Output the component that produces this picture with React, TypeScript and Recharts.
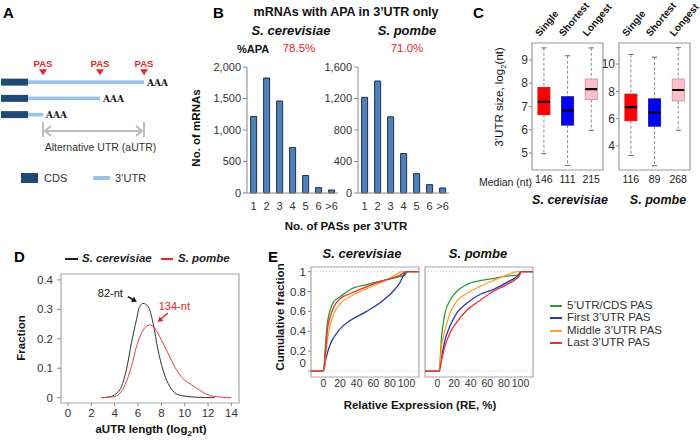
import React from 'react';
import {
  BarChart, Bar, LineChart, Line, ComposedChart, XAxis, YAxis,
  ReferenceArea, ReferenceDot, ReferenceLine,
} from 'recharts';

const FONT = '"Liberation Sans", Arial, Helvetica, sans-serif';

// ---- A: transcript schematic ----
const transcriptRows = ['long', 'mid', 'short'];
const cdsStart = 1;
const cdsEnd = 28;
const utrEnds = [144, 100, 43];
const aUtrSpan = [43, 144];

// ---- B: PAS counts per 3'UTR ----
const pasCategories = ['1', '2', '3', '4', '5', '6', '>6'];
const scPasCounts = [1215, 1825, 1460, 722, 278, 85, 48];
const spPasCounts = [1215, 1422, 968, 501, 246, 106, 64];
const scCountTicks = [0, 500, 1000, 1500, 2000];
const spCountTicks = [0, 400, 800, 1200, 1600];

// ---- C: 3'UTR size box plots ----
const boxGroups = ['Single', 'Shortest', 'Longest'];
const scBoxMin = [4.97, 4.47, 5.98];
const scBoxQ1 = [6.65, 6.2, 7.3];
const scBoxMedian = [7.2, 6.82, 7.75];
const scBoxQ3 = [7.82, 7.42, 8.18];
const scBoxMax = [9.52, 9.18, 9.52];
const scMedianNt = ['146', '111', '215'];
const spBoxMin = [3.3, 2.55, 5.15];
const spBoxQ1 = [5.85, 5.45, 7.3];
const spBoxMedian = [6.85, 6.45, 8.1];
const spBoxQ3 = [7.8, 7.45, 8.9];
const spBoxMax = [10.7, 10.5, 11.2];
const spMedianNt = ['116', '89', '268'];

// ---- D: aUTR length density ----
const scAutrDensity = [
  [2.86, 0], [3.43, 0.002], [4.0, 0.01], [4.57, 0.037], [5.0, 0.094], [5.43, 0.185],
  [5.86, 0.264], [6.14, 0.31], [6.43, 0.32], [6.86, 0.31], [7.29, 0.253], [7.71, 0.162],
  [8.14, 0.094], [8.57, 0.049], [9.14, 0.017], [9.71, 0.007], [10.86, 0.002], [12.57, 0],
];
const spAutrDensity = [
  [2.86, 0], [4.0, 0.004], [4.57, 0.02], [5.0, 0.055], [5.43, 0.105], [5.86, 0.173],
  [6.29, 0.219], [6.71, 0.242], [7.0, 0.247], [7.43, 0.236], [8.0, 0.196], [8.57, 0.151],
  [9.14, 0.105], [9.71, 0.071], [10.3, 0.051], [10.86, 0.037], [11.7, 0.015], [12.57, 0.004], [14, 0],
];
const autrTicks = [0, 2, 4, 6, 8, 10, 12, 14];
const fractionTicks = [0, 0.1, 0.2, 0.3, 0.4];

// ---- E: cumulative RE ----
const scCds = [[-15, 0], [0, 0], [2.7, 0.3], [4.7, 0.48], [8.7, 0.63], [12.6, 0.7], [20.5, 0.75], [32.3, 0.82], [52, 0.87], [71.7, 0.91], [91.4, 0.95], [98.5, 0.966], [100, 1], [115, 1]];
const scFirst = [[-15, 0], [0, 0], [2.7, 0.11], [4.7, 0.18], [8.7, 0.28], [12.6, 0.34], [20.5, 0.43], [32.3, 0.51], [52, 0.6], [71.7, 0.71], [83.5, 0.8], [91.4, 0.88], [98.5, 0.99], [100, 1], [115, 1]];
const scMiddle = [[-15, 0], [0, 0], [2.7, 0.15], [4.7, 0.31], [8.7, 0.48], [12.6, 0.58], [20.5, 0.68], [32.3, 0.75], [52, 0.83], [71.7, 0.9], [87.4, 0.97], [93.4, 1], [115, 1]];
const scLast = [[-15, 0], [0, 0], [2.7, 0.22], [4.7, 0.41], [8.7, 0.56], [12.6, 0.65], [20.5, 0.73], [32.3, 0.78], [52, 0.85], [71.7, 0.91], [91.4, 0.96], [100, 1], [115, 1]];
const spCds = [[-15, 0], [2, 0], [5, 0.35], [9, 0.58], [15, 0.71], [23, 0.8], [35, 0.87], [51, 0.91], [67, 0.93], [83, 0.956], [97, 0.966], [100, 1], [115, 1]];
const spFirst = [[-15, 0], [2, 0], [5, 0.14], [9, 0.31], [15, 0.45], [23, 0.58], [35, 0.68], [51, 0.77], [67, 0.82], [83, 0.89], [99, 0.98], [100, 1], [115, 1]];
const spMiddle = [[-15, 0], [2, 0], [5, 0.25], [9, 0.41], [15, 0.58], [23, 0.7], [35, 0.78], [51, 0.85], [67, 0.91], [83, 0.966], [91, 0.99], [97, 1], [115, 1]];
const spLast = [[-15, 0], [2, 0], [5, 0.11], [9, 0.25], [15, 0.38], [23, 0.49], [35, 0.61], [51, 0.71], [67, 0.8], [83, 0.87], [99, 0.966], [101, 1], [115, 1]];
const reTicks = [0, 20, 40, 60, 80, 100];
const cumTicks = [0, 0.2, 0.4, 0.6, 0.8, 1];
const pasTypes = ['5\u2019UTR/CDS PAS', 'First 3\u2019UTR PAS', 'Middle 3\u2019UTR PAS', 'Last 3\u2019UTR PAS'];

const pasColors = ['#2e9a33', '#2838b0', '#ffa12e', '#ea2f35'];
const boxFill: Record<string, string> = { Single: '#ff0000', Shortest: '#0000ff', Longest: '#ffc0cb' };
const boxStroke: Record<string, string> = { Single: '#c22', Shortest: '#227', Longest: '#c9a0a8' };

const toXY = (pts: number[][]) => pts.map(([x, y]) => ({ x, y }));

const buildBoxes = (mn: number[], q1: number[], md: number[], q3: number[], mx: number[]) =>
  boxGroups.map((name, i) => ({ name, min: mn[i], q1: q1[i], median: md[i], q3: q3[i], max: mx[i], box: [q1[i], q3[i]] }));

const aData = [
  ...transcriptRows.map((row, i) => ({ row, kind: 'mrna', span: [cdsStart, utrEnds[i]], cdsEnd })),
  { row: 'aUTR', kind: 'arrow', span: aUtrSpan },
];

const Txt = ({ x, y, children, size = 11.5, bold = false, italic = false, color = '#222', anchor = 'middle', rotate = 0 }: any) => {
  const tx = anchor === 'middle' ? '-50%' : anchor === 'end' ? '-100%' : '0';
  return (
    <div style={{
      position: 'absolute', left: x, top: y, whiteSpace: 'nowrap', lineHeight: 1,
      fontSize: size, fontWeight: bold ? 'bold' : 'normal', fontStyle: italic ? 'italic' : 'normal',
      color, fontFamily: FONT, transform: `translate(${tx}, -50%)${rotate ? ` rotate(${rotate}deg)` : ''}`,
    }}>{children}</div>
  );
};

const TranscriptShape = (p: any) => {
  const { x, y, width, height, payload } = p;
  const cy = y + height / 2;
  if (payload.kind === 'arrow') {
    const x2 = x + width;
    return (
      <g>
        <g stroke="#bdbdbd" strokeWidth={2} fill="none">
          <line x1={x} y1={cy - 9} x2={x} y2={cy + 6} />
          <line x1={x2} y1={cy - 9} x2={x2} y2={cy + 6} />
          <line x1={x + 2} y1={cy} x2={x2 - 2} y2={cy} />
          <polyline points={`${x + 8},${cy - 5} ${x + 2},${cy} ${x + 8},${cy + 5}`} />
          <polyline points={`${x2 - 8},${cy - 5} ${x2 - 2},${cy} ${x2 - 8},${cy + 5}`} />
        </g>
        <text x={x + width / 2 + 7} y={cy + 20} textAnchor="middle" fontSize={10.5} fill="#333" fontFamily={FONT}>
          Alternative UTR (aUTR)
        </text>
      </g>
    );
  }
  const [s, e] = payload.span;
  const cdsW = (width * (payload.cdsEnd - s)) / (e - s);
  return (
    <g>
      <rect x={x} y={cy - 3.5} width={cdsW} height={7} fill="#1f4a73" />
      <rect x={x + cdsW} y={cy - 1.8} width={width - cdsW} height={3.6} fill="#9dc2e6" />
      <text x={x + width + 3} y={cy + 3.5} fontSize={9} fontWeight="bold" fill="#111" fontFamily='"DejaVu Serif", serif'>AAA</text>
    </g>
  );
};

const PasMarker = (p: any) => {
  const { cx, cy } = p;
  return (
    <g>
      <polygon points={`${cx - 4},${cy - 13} ${cx + 4},${cy - 13} ${cx},${cy - 7}`} fill="#e5262b" />
      <text x={cx} y={cy - 15} textAnchor="middle" fontSize={9.5} fontWeight="bold" fill="#e5262b" fontFamily={FONT}>PAS</text>
    </g>
  );
};

const arrowHead = (tx: number, ty: number, fx: number, fy: number) => {
  const len = Math.hypot(tx - fx, ty - fy);
  const dx = (tx - fx) / len, dy = (ty - fy) / len;
  const bx = tx - dx * 5, by = ty - dy * 5;
  return `${tx},${ty} ${bx - dy * 3},${by + dx * 3} ${bx + dy * 3},${by - dx * 3}`;
};

const BlackNote = (p: any) => {
  const { cx, cy } = p;
  return (
    <g>
      <line x1={cx - 9} y1={cy - 5} x2={cx - 3} y2={cy - 1.7} stroke="#111" strokeWidth={1.5} />
      <polygon points={arrowHead(cx, cy, cx - 9, cy - 5)} fill="#111" />
      <text x={cx - 14} y={cy - 5} textAnchor="end" fontSize={11} fill="#111" fontFamily={FONT}>82-nt</text>
    </g>
  );
};

const RedNote = (p: any) => {
  const { cx, cy } = p;
  return (
    <g>
      <line x1={cx + 10} y1={cy - 9} x2={cx + 3} y2={cy - 2.7} stroke="#e8262b" strokeWidth={1.5} />
      <polygon points={arrowHead(cx, cy, cx + 10, cy - 9)} fill="#e8262b" />
      <text x={cx + 1} y={cy - 12} textAnchor="start" fontSize={11} fill="#e8262b" fontFamily={FONT}>134-nt</text>
    </g>
  );
};

const BoxShape = (p: any) => {
  const { x, y, width, height, payload } = p;
  const k = height / (payload.q3 - payload.q1);
  const py = (v: number) => y + (payload.q3 - v) * k;
  const cx = x + width / 2;
  const cap = width * 0.22;
  return (
    <g>
      <line x1={cx} x2={cx} y1={py(payload.max)} y2={y} stroke="#8c8c8c" strokeDasharray="3 2" />
      <line x1={cx} x2={cx} y1={y + height} y2={py(payload.min)} stroke="#8c8c8c" strokeDasharray="3 2" />
      <line x1={cx - cap} x2={cx + cap} y1={py(payload.max)} y2={py(payload.max)} stroke="#666" />
      <line x1={cx - cap} x2={cx + cap} y1={py(payload.min)} y2={py(payload.min)} stroke="#666" />
      <rect x={x} y={y} width={width} height={height} fill={boxFill[payload.name]} stroke={boxStroke[payload.name]} />
      <line x1={x} x2={x + width} y1={py(payload.median)} y2={py(payload.median)} stroke="#000" strokeWidth={2.2} />
    </g>
  );
};

const RotTick = (p: any) => {
  const { x, y, payload } = p;
  const tx = x - 4;
  const ty = y - 1;
  return (
    <text x={tx} y={ty} transform={`rotate(-50 ${tx} ${ty})`} fontSize={10} fontWeight="bold" fill="#111" fontFamily={FONT}>
      {payload.value}
    </text>
  );
};

const CumTick = (p: any) => {
  const { x, y, payload } = p;
  const v = payload.value;
  const label = v === 0 ? '0' : v === 1 ? '1' : v.toFixed(1);
  return (
    <text x={x} y={v === 0 ? y - 8 : y} dy="0.355em" textAnchor="end" fontSize={11.5} fill="#333" fontFamily={FONT}>
      {label}
    </text>
  );
};

const axisTick = { fontSize: 11, fill: '#333', fontFamily: FONT };
const grayLine = { stroke: '#8a8a8a' };

const PasBars = ({ data, ticks, max }: any) => (
  <BarChart width={145} height={160} data={data} margin={{ top: 7, right: 7, left: 7, bottom: 7 }} barCategoryGap="28%">
    <XAxis dataKey="c" interval={0} height={20} tickLine={false} tickSize={0} tickMargin={9} axisLine={grayLine} tick={axisTick} />
    <YAxis domain={[0, max]} ticks={ticks} interval={0} width={40} tickSize={4} tickMargin={2} axisLine={grayLine} tickLine={grayLine}
      tick={axisTick} tickFormatter={(v: number) => v.toLocaleString('en-US')} />
    <Bar dataKey="n" fill="#4f81bd" stroke="#1e2e44" strokeWidth={1} isAnimationActive={false} />
  </BarChart>
);

const BoxPanel = ({ data, domain, ticks, medians }: any) => (
  <ComposedChart width={106} height={196} data={data} margin={{ top: 3, right: 3, left: 7, bottom: 6 }} barCategoryGap="25%">
    <XAxis xAxisId="top" orientation="top" dataKey="name" interval={0} height={40} axisLine={false} tickLine={false}
      tickSize={0} tickMargin={5} tick={<RotTick />} />
    <XAxis dataKey="name" interval={0} height={20} axisLine={false} tickLine={false} tickSize={0} tickMargin={6}
      tick={{ fontSize: 10.5, fill: '#222', fontFamily: FONT }} tickFormatter={(_v: any, i: number) => medians[i]} />
    <YAxis type="number" domain={domain} ticks={ticks} interval={0} width={25} tickSize={3} tickMargin={1} axisLine={false}
      tickLine={grayLine} tick={{ fontSize: 12, fill: '#333', fontFamily: FONT }} allowDataOverflow />
    <ReferenceArea y1={domain[0]} y2={domain[1]} fill="none" stroke="#9a9a9a" strokeWidth={1.2} fillOpacity={0} />
    <Bar dataKey="box" shape={BoxShape} isAnimationActive={false} />
  </ComposedChart>
);

const CumPanel = ({ series, showLabels }: any) => (
  <LineChart width={150} height={140} margin={{ top: 7, right: 6, left: 7, bottom: 3 }}>
    <XAxis type="number" dataKey="x" domain={[-15, 115]} ticks={reTicks} interval={0} height={20} axisLine={false} tickLine={false}
      tickSize={0} tickMargin={3} tick={{ fontSize: 10.5, fill: '#333', fontFamily: FONT }} allowDataOverflow />
    <YAxis type="number" domain={[-0.06, 1.047]} ticks={cumTicks} interval={0} width={29} tickSize={3} tickMargin={2} axisLine={false}
      tickLine={grayLine} tick={showLabels ? <CumTick /> : false} allowDataOverflow />
    <ReferenceArea x1={-15} x2={115} y1={-0.06} y2={1.047} fill="none" fillOpacity={0} stroke="#a8a8a8" strokeWidth={1.2} />
    <ReferenceLine y={0} stroke="#c8c8c8" strokeDasharray="1 2" />
    <ReferenceLine y={1} stroke="#c8c8c8" strokeDasharray="1 2" />
    {series.map((s: number[][], i: number) => (
      <Line key={i} data={toXY(s)} dataKey="y" type="monotone" stroke={pasColors[i]} strokeWidth={1.3} dot={false}
        isAnimationActive={false} />
    ))}
  </LineChart>
);

export default function App() {
  const scPasData = pasCategories.map((c, i) => ({ c, n: scPasCounts[i] }));
  const spPasData = pasCategories.map((c, i) => ({ c, n: spPasCounts[i] }));
  const scBoxes = buildBoxes(scBoxMin, scBoxQ1, scBoxMedian, scBoxQ3, scBoxMax);
  const spBoxes = buildBoxes(spBoxMin, spBoxQ1, spBoxMedian, spBoxQ3, spBoxMax);

  return (
    <div style={{ position: 'absolute', left: 0, top: 0, width: 700, height: 441, background: '#fff', overflow: 'hidden', fontFamily: FONT }}>
      <style>{'svg.recharts-surface{overflow:visible !important}.recharts-wrapper{overflow:visible !important}'}</style>
      {/* A */}
      <Txt x={3} y={12} size={15} bold anchor="start" color="#000">A</Txt>
      <div style={{ position: 'absolute', left: 0, top: 50 }}>
        <BarChart width={190} height={105} data={aData} layout="vertical" margin={{ top: 24, right: 0, left: 0, bottom: 16 }} barCategoryGap="10%">
          <XAxis type="number" domain={[0, 190]} hide />
          <YAxis type="category" dataKey="row" hide />
          <Bar dataKey="span" shape={TranscriptShape} isAnimationActive={false} />
          {utrEnds.map((v) => (
            <ReferenceDot key={v} x={v} y="long" r={1} shape={PasMarker} ifOverflow="visible" />
          ))}
        </BarChart>
      </div>
      <div style={{ position: 'absolute', left: 21, top: 173, width: 17, height: 10, background: '#1f4a73' }} />
      <Txt x={44} y={178} size={11} anchor="start" color="#333">CDS</Txt>
      <div style={{ position: 'absolute', left: 93, top: 176, width: 17, height: 4, background: '#9dc2e6' }} />
      <Txt x={115} y={178} size={11} anchor="start" color="#333">3’UTR</Txt>

      {/* B */}
      <Txt x={213} y={12} size={15} bold anchor="start" color="#000">B</Txt>
      <Txt x={346} y={12} size={12.5} bold color="#111">mRNAs with APA in 3’UTR only</Txt>
      <Txt x={291} y={30} size={13} bold italic color="#111">S. cerevisiae</Txt>
      <Txt x={407} y={30} size={13} bold italic color="#111">S. pombe</Txt>
      <Txt x={237} y={49} size={11} bold anchor="start" color="#111">%APA</Txt>
      <Txt x={299} y={49} size={11.5} color="#e8262b">78.5%</Txt>
      <Txt x={407} y={49} size={11.5} color="#e8262b">71.0%</Txt>
      <Txt x={197} y={128} size={11.5} bold rotate={-90} color="#111">No. of mRNAs</Txt>
      <div style={{ position: 'absolute', left: 200, top: 60 }}>
        <PasBars data={scPasData} ticks={scCountTicks} max={2000} />
      </div>
      <div style={{ position: 'absolute', left: 311, top: 60 }}>
        <PasBars data={spPasData} ticks={spCountTicks} max={1600} />
      </div>
      <Txt x={346} y={227} size={11.5} bold color="#111">No. of PASs per 3’UTR</Txt>

      {/* C */}
      <Txt x={473} y={12} size={15} bold anchor="start" color="#000">C</Txt>
      <Txt x={501} y={97} size={11.5} rotate={-90} color="#111">3’UTR size, log<sub style={{ fontSize: 8 }}>2</sub>(nt)</Txt>
      <div style={{ position: 'absolute', left: 500, top: 0 }}>
        <BoxPanel data={scBoxes} domain={[4.27, 9.73]} ticks={[5, 6, 7, 8, 9]} medians={scMedianNt} />
      </div>
      <div style={{ position: 'absolute', left: 587, top: 0 }}>
        <BoxPanel data={spBoxes} domain={[2.24, 11.54]} ticks={[4, 6, 8, 10]} medians={spMedianNt} />
      </div>
      <Txt x={479} y={182} size={10.5} anchor="start" color="#222">Median (nt)</Txt>
      <Txt x={570} y={200} size={12.5} bold italic color="#111">S. cerevisiae</Txt>
      <Txt x={658} y={200} size={12.5} bold italic color="#111">S. pombe</Txt>

      {/* D */}
      <Txt x={14} y={256} size={15} bold anchor="start" color="#000">D</Txt>
      <div style={{ position: 'absolute', left: 65, top: 258, width: 13, height: 1.6, background: '#222' }} />
      <Txt x={82} y={259} size={11.5} bold italic anchor="start" color="#222">S. cerevisiae</Txt>
      <div style={{ position: 'absolute', left: 161, top: 258, width: 12, height: 1.6, background: '#e8262b' }} />
      <Txt x={178} y={259} size={11.5} bold italic anchor="start" color="#222">S. pombe</Txt>
      <Txt x={22} y={338} size={11.5} bold rotate={-90} color="#111">Fraction</Txt>
      <div style={{ position: 'absolute', left: 10, top: 268 }}>
        <LineChart width={236} height={170} margin={{ top: 6, right: 7, left: 7, bottom: 10 }}>
          <XAxis type="number" dataKey="x" domain={[-0.6, 14.65]} ticks={autrTicks} interval={0} height={25} axisLine={false}
            tickSize={3} tickMargin={3} tickLine={grayLine} tick={{ fontSize: 11.5, fill: '#333', fontFamily: FONT }} allowDataOverflow />
          <YAxis type="number" domain={[-0.018, 0.42]} ticks={fractionTicks} interval={0} width={44} axisLine={false} tickSize={4}
            tickMargin={4} tickLine={grayLine} tick={{ fontSize: 11.5, fill: '#333', fontFamily: FONT }}
            tickFormatter={(v: number) => (v === 0 ? '0' : v.toFixed(1))} allowDataOverflow />
          <ReferenceArea x1={-0.6} x2={14.65} y1={-0.018} y2={0.42} fill="none" fillOpacity={0} stroke="#a8a8a8" strokeWidth={1.2} />
          <Line data={toXY(scAutrDensity)} dataKey="y" type="monotone" stroke="#333" strokeWidth={1} dot={false} isAnimationActive={false} />
          <Line data={toXY(spAutrDensity)} dataKey="y" type="monotone" stroke="#ef3b3b" strokeWidth={1} dot={false} isAnimationActive={false} />
          <ReferenceDot x={5.9} y={0.326} r={1} shape={BlackNote} ifOverflow="visible" />
          <ReferenceDot x={7.69} y={0.257} r={1} shape={RedNote} ifOverflow="visible" />
        </LineChart>
      </div>
      <Txt x={151} y={431} size={11.5} bold color="#111">aUTR length (log<sub style={{ fontSize: 8 }}>2</sub>nt)</Txt>

      {/* E */}
      <Txt x={268} y={256} size={15} bold anchor="start" color="#000">E</Txt>
      <Txt x={281} y={317} size={11.5} bold rotate={-90} color="#111">Cumulative fraction</Txt>
      <Txt x={362} y={253} size={13} bold italic color="#111">S. cerevisiae</Txt>
      <Txt x={478} y={253} size={13} bold italic color="#111">S. pombe</Txt>
      <div style={{ position: 'absolute', left: 275, top: 260 }}>
        <CumPanel series={[scCds, scFirst, scMiddle, scLast]} showLabels />
      </div>
      <div style={{ position: 'absolute', left: 389, top: 260 }}>
        <CumPanel series={[spCds, spFirst, spMiddle, spLast]} showLabels={false} />
      </div>
      <Txt x={420} y={406} size={11.5} bold color="#111">Relative Expression (RE, %)</Txt>
      {pasTypes.map((t, i) => (
        <React.Fragment key={t}>
          <div style={{ position: 'absolute', left: 550, top: 305 + i * 12.3, width: 12, height: 2, background: pasColors[i] }} />
          <Txt x={567} y={306 + i * 12.3} size={11.5} anchor="start" color="#333">{t}</Txt>
        </React.Fragment>
      ))}
    </div>
  );
}
